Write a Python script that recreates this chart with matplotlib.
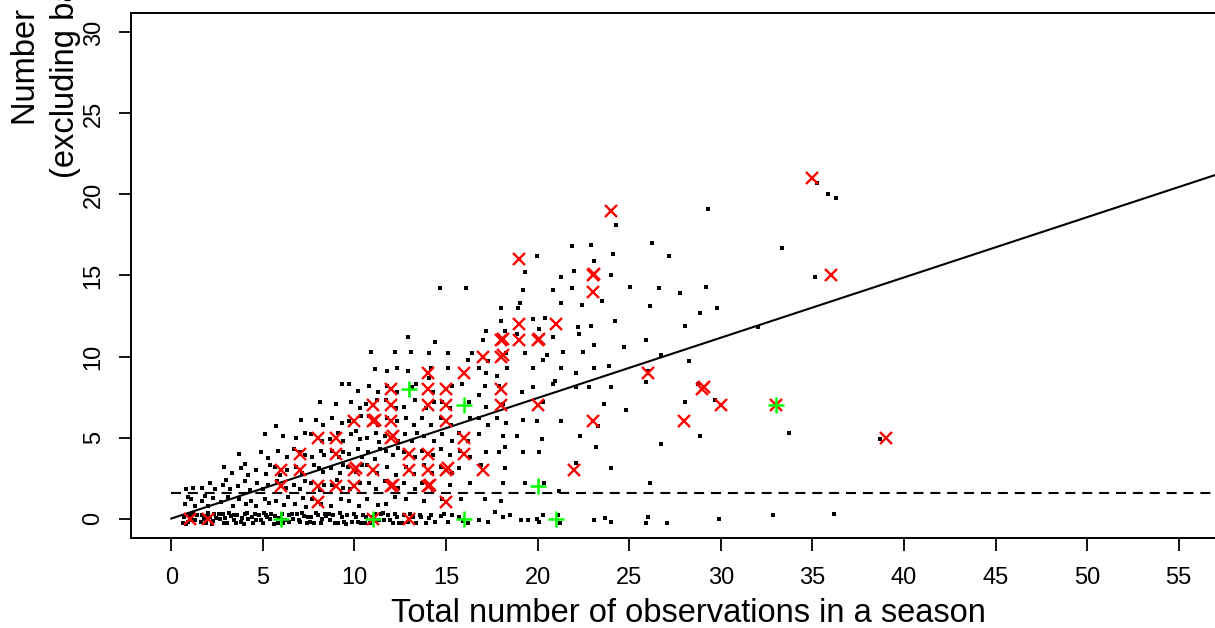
import matplotlib
matplotlib.use("Agg")
import matplotlib.pyplot as plt

plt.rcParams['font.family'] = ['Liberation Sans', 'DejaVu Sans']

# ---------------- data ----------------
# black (jittered) observations
black_x = [
    0.7, 0.9, 1.1, 1.3, 0.8, 1.2, 1.0, 0.75, 1.05, 1.3, 0.9, 0.8, 1.2,
    1.7, 1.9, 2.1, 2.3, 2.0, 1.8, 2.35, 1.65, 2.0, 2.25, 1.85, 1.7, 2.1, 2.4,
    2.65, 2.85, 3.05, 3.25, 3.4, 2.95, 2.7, 3.1, 3.35, 2.8, 3.2, 3.0, 2.9, 3.3,
    3.6, 3.8, 4.0, 4.2, 4.4, 3.95, 3.7, 4.1, 4.35, 3.65, 4.05, 4.3, 3.8, 4.2, 4.0, 3.7,
    4.6, 4.8, 5.0, 5.2, 5.4, 5.05, 4.65, 5.1, 5.35, 4.7, 5.0, 5.3, 4.6, 5.15, 5.4, 4.9, 5.3, 5.1,
    5.65, 5.8, 6.05, 6.2, 6.4, 5.7, 6.15, 6.35, 5.75, 6.25, 5.65, 6.3, 5.95, 5.8, 6.3, 6.1, 5.7,
    6.65, 6.85, 7.05, 7.25, 7.4, 6.75, 7.2, 7.35, 6.7, 7.0, 7.3, 6.8, 7.15, 6.7, 7.3, 7.0, 6.8, 7.3, 7.1,
    7.6, 7.8, 8.0, 8.25, 8.4, 7.7, 8.2, 7.65, 8.1, 8.35, 7.8, 8.3, 8.05, 7.7, 8.2, 8.35, 7.65, 8.25, 7.9, 8.3, 8.1,
    8.65, 8.85, 9.1, 9.3, 8.7, 9.25, 8.8, 9.35, 9.05, 8.7, 9.2, 9.35, 8.75, 9.15, 9.4, 8.65, 9.1, 9.35, 8.8, 9.3, 9.0, 9.3,
    9.6, 9.85, 10.1, 10.35, 9.7, 10.25, 9.75, 10.3, 9.65, 10.1, 10.4, 9.7, 10.2, 10.4, 9.8, 10.3, 10.1, 9.7, 10.35, 9.8, 10.3, 9.7, 10.2, 10.92,
    10.65, 10.85, 11.1, 11.35, 10.7, 11.3, 10.8, 11.2, 10.7, 11.25, 10.75, 11.1, 11.4, 10.7, 11.2, 11.35, 10.8, 11.3, 10.65, 11.25, 10.8, 11.3, 11.1,
    11.6, 11.85, 12.1, 12.3, 11.7, 12.2, 11.65, 12.35, 11.75, 12.25, 11.7, 12.1, 12.4, 11.65, 12.35, 11.8, 12.3, 11.7, 12.25, 11.75, 12.3, 12.34, 11.8, 12.2, 12.95,
    12.7, 12.9, 13.2, 12.8, 12.7, 13.3, 12.8, 13.25, 12.7, 13.3, 12.75, 13.15, 13.4, 12.8, 13.25, 12.7, 13.3, 13.15, 13.35, 12.9, 13.1,
    13.65, 13.9, 14.2, 13.8, 13.7, 14.3, 13.8, 14.25, 13.7, 14.3, 13.8, 14.35, 13.7, 14.2, 13.9, 14.35, 14.07, 14.3, 14.17, 14.07, 14.37, 14.67,
    14.7, 15.1, 14.8, 15.2, 14.75, 15.3, 14.7, 15.2, 14.8, 15.35, 14.7, 15.25, 14.8, 15.2, 15.08, 15.3, 15.1, 16.1,
    15.7, 16.2, 15.8, 16.3, 15.7, 15.75, 16.3, 15.7, 16.2, 16.3, 15.89, 16.25, 16.2, 16.4, 16.8, 17.0,
    16.8, 17.3, 17.1, 16.9, 17.2, 16.8, 16.8, 17.3, 17.2, 17.1, 16.8, 17.2, 17.3, 17.2, 18.02,
    17.7, 18.1, 18.0, 18.1, 18.2, 17.9, 18.2, 18.1, 17.8, 18.3, 18.1, 17.9, 18.33, 17.8, 18.3, 18.2, 18.02,
    18.5, 19.1, 19.5, 19.3, 19.2, 18.9, 19.2, 19.13, 19.74, 19.74, 19.3, 18.9, 20.05, 19.74, 18.93, 19.03, 19.2, 19.3, 19.95,
    19.95, 20.1, 20.3, 20.35, 20.05, 20.25, 19.95, 20.3, 20.86, 20.3, 20.5, 20.86, 20.4, 21.27, 20.86,
    21.1, 21.2, 21.16, 21.27, 20.96, 21.27, 21.4, 21.87, 21.27, 21.98, 21.87,
    22.3, 22.08, 22.28, 22.18, 22.08, 22.08, 22.5, 22.4, 22.89, 22.89, 22.79, 23.09, 23.2, 23.09, 23.09, 23.09,
    23.3, 23.7, 24.0, 24.0, 23.9, 24.0, 24.2, 24.1, 24.0, 24.3, 23.5, 23.6, 24.71, 24.82, 25.02,
    25.93, 26.13, 26.03, 25.93, 26.23, 26.03, 25.93, 26.13, 26.74, 26.64, 27.15, 26.74, 27.04,
    27.75, 28.06, 28.26, 28.06, 28.77, 28.87, 29.17, 28.87, 29.28, 29.78, 29.68, 29.88,
    32.02, 33.33, 33.74, 32.83, 35.26, 35.87, 36.27, 35.16, 36.17, 38.7,
    # extra points of the dense zero band
    0.65, 0.95, 1.15, 1.4, 1.6, 1.95, 2.2, 2.45, 2.6, 2.9, 3.15, 3.45,
    3.55, 3.85, 4.15, 4.45, 4.55, 4.9, 5.15, 5.45, 5.6, 5.9, 6.1, 6.45,
    6.6, 6.95, 7.15, 7.45, 7.55, 7.9, 8.15, 8.45, 8.6, 8.95, 9.2, 9.45,
    9.55, 9.95, 10.2, 10.45, 10.6, 10.95, 11.2, 11.45, 11.55, 11.95, 12.2, 12.45,
    12.6, 13.05, 13.35, 13.6, 14.05, 14.4, 14.9, 15.3, 15.95,
]
black_y = [
    0.1, -0.2, 0.2, -0.1, -0.35, 0.35, 0.0, 0.9, 1.2, 0.8, 1.35, 1.8, 1.9,
    0.2, -0.3, 0.1, -0.15, 0.35, -0.05, 0.3, 1.1, 0.8, 1.25, 1.4, 1.9, 2.2, 1.8,
    0.0, 0.3, -0.25, 0.15, -0.1, 0.05, 1.0, 1.3, 0.8, 2.1, 1.8, 2.35, 3.2, 2.8,
    0.2, -0.2, 0.3, -0.05, 0.1, -0.35, 1.2, 0.9, 1.1, 2.0, 2.3, 1.75, 3.1, 2.7, 3.35, 4.0,
    -0.1, 0.25, -0.3, 0.1, -0.05, 0.35, 0.8, 1.2, 0.95, 2.2, 1.8, 2.1, 3.0, 2.75, 3.3, 4.1, 3.75, 5.2,
    0.15, -0.25, 0.3, -0.1, 0.2, 1.1, 0.85, 1.3, 2.3, 1.9, 3.2, 3.0, 2.7, 4.2, 3.8, 5.1, 5.7,
    0.0, 0.3, -0.2, 0.15, -0.3, 0.9, 1.25, 0.7, 2.1, 1.8, 2.3, 3.2, 2.8, 4.3, 3.9, 4.1, 5.0, 5.3, 6.1,
    0.1, -0.25, 0.25, -0.05, 0.3, 1.2, 0.9, 2.2, 1.75, 2.1, 3.3, 2.9, 3.1, 3.8, 4.2, 3.9, 5.2, 4.8, 6.1, 5.8, 7.2,
    -0.1, 0.2, -0.3, 0.1, 0.8, 1.2, 2.1, 1.9, 2.35, 3.1, 2.8, 3.3, 4.2, 3.8, 4.1, 4.9, 5.3, 4.8, 6.2, 5.9, 7.1, 8.3,
    0.2, -0.2, 0.1, -0.3, 1.1, 0.8, 1.8, 2.2, 3.2, 2.9, 3.3, 4.0, 4.3, 3.8, 5.2, 4.9, 5.4, 6.0, 6.3, 7.2, 6.8, 8.3, 7.9, 10.3,
    0.1, -0.25, 0.3, -0.1, 1.2, 0.85, 2.2, 1.8, 3.3, 2.8, 4.1, 3.7, 4.3, 5.0, 5.3, 4.75, 6.3, 5.8, 7.1, 7.3, 8.2, 7.8, 9.2,
    -0.1, 0.25, -0.3, 0.1, 0.9, 1.3, 2.3, 1.9, 3.2, 2.7, 4.2, 3.9, 4.35, 5.1, 4.8, 6.2, 6.0, 7.3, 6.8, 8.2, 7.8, 9.3, 9.1, 10.3, 11.2,
    0.2, -0.2, 0.1, 1.2, 2.2, 1.8, 3.2, 2.75, 4.1, 3.8, 5.2, 4.8, 5.3, 6.2, 5.8, 6.9, 7.3, 8.1, 8.3, 9.1, 10.3,
    0.1, -0.25, 0.25, 1.1, 2.2, 1.75, 3.3, 2.8, 4.2, 3.9, 5.1, 4.8, 6.2, 5.8, 6.8, 7.2, 8.7, 7.8, 9.3, 10.2, 10.9, 14.2,
    0.15, -0.2, 1.2, 2.1, 3.2, 2.8, 4.3, 3.9, 5.2, 4.8, 6.2, 5.8, 7.2, 6.8, 9.3, 8.2, 10.2, 14.2,
    0.1, -0.3, 1.2, 2.2, 3.1, 4.2, 3.8, 5.3, 4.8, 6.2, 8.3, 7.2, 9.8, 10.2, 7.6, 11.0,
    -0.1, -0.2, 1.2, 3.3, 4.1, 5.2, 6.2, 5.8, 6.9, 8.2, 9.3, 9.0, 9.7, 11.6, 12.2,
    0.4, 0.1, 1.1, 2.2, 3.1, 4.1, 4.4, 5.1, 6.2, 5.9, 7.1, 8.2, 9.3, 8.8, 10.2, 11.6, 13.0,
    0.2, -0.1, -0.1, 2.2, 4.1, 5.1, 6.1, 7.8, 8.1, 9.3, 10.2, 11.4, 11.7, 12.3, 13.0, 13.3, 14.1, 15.2, 16.2,
    0.0, -0.2, 0.2, 2.2, 4.1, 4.9, 6.0, 7.2, 8.3, 9.8, 10.1, 11.2, 12.4, 13.3, 14.1,
    0.2, -0.3, 1.7, 6.0, 8.5, 9.3, 10.3, 14.2, 14.9, 15.3, 16.8,
    5.1, 3.4, 11.4, 11.8, 9.0, 8.1, 10.3, 13.2, 16.9, 11.9, 8.1, -0.1, 4.4, 15.9, 10.7, 9.3,
    5.7, 0.05, -0.2, 3.1, 9.4, 8.1, 12.2, 16.3, 15.0, 18.1, 13.4, 7.1, 10.6, 6.7, 14.3,
    11.0, 13.1, 9.1, 8.4, 17.0, 0.1, -0.3, 2.2, 10.1, 14.2, 16.2, 4.6, -0.25,
    13.9, 11.9, 9.7, 7.2, 8.3, 12.7, 14.3, 5.1, 19.1, 13.0, 7.3, 0.0,
    11.8, 16.7, 5.3, 0.2, 20.7, 20.0, 19.8, 14.9, 0.3, 4.9,
    # extra points of the dense zero band
    -0.3, 0.3, -0.1, 0.25, -0.2, 0.15, -0.35, 0.05, 0.3, -0.3, 0.35, 0.2,
    -0.3, 0.05, 0.35, -0.25, 0.3, -0.1, 0.2, 0.3, -0.35, 0.05, -0.3, -0.2,
    0.3, -0.1, 0.35, 0.1, -0.2, 0.35, -0.3, 0.15, 0.3, -0.3, 0.35, -0.2,
    -0.35, 0.3, -0.2, 0.25, -0.3, 0.1, -0.1, 0.3, 0.35, -0.1, 0.3, -0.25,
    -0.3, 0.3, -0.25, 0.2, 0.05, -0.2, 0.3, 0.2, -0.15,
]

# red crosses
red_x = [1, 2, 6, 6, 7, 7, 8, 8, 8, 9, 9, 9,
         10, 10, 10.1, 10, 11, 11, 11.1, 11, 11,
         12, 12, 12, 12, 12.1, 12, 12.1, 13, 13, 13,
         14, 14, 14, 14, 14, 14, 14.1, 15, 15, 15, 15, 15.1, 15,
         16, 16, 16, 17, 17, 18, 18.1, 18, 18.1, 18, 18,
         19, 19, 19, 20, 20.1, 20, 21, 22, 23, 23.1, 23, 23,
         24, 26, 28, 29, 29.1, 30, 33, 35, 36, 39]
red_y = [0, 0, 3, 2, 4, 3, 5, 2, 1, 5, 4, 2,
         6, 3, 3.1, 2, 7, 6, 6.1, 3, 0,
         8, 7, 6, 5, 5.1, 2, 2.1, 4, 3, 0,
         9, 8, 7, 4, 3, 2, 2.1, 8, 7, 6, 3, 3.1, 1,
         9, 5, 4, 10, 3, 11, 11.1, 10, 10.1, 8, 7,
         16, 12, 11, 11, 11.1, 7, 12, 3, 15, 15.1, 14, 6,
         19, 9, 6, 8, 8.1, 7, 7, 21, 15, 5]

# green pluses
green_x = [6, 11, 13, 16, 16, 20, 21, 33]
green_y = [0, 0, 8, 7, 0, 2, 0, 7]

# fitted line and threshold
fit_slope = 0.372
fit_intercept = 0.0
line_x = [0, 60]
threshold = 1.6

x_ticks = [0, 5, 10, 15, 20, 25, 30, 35, 40, 45, 50, 55]
y_ticks = [0, 5, 10, 15, 20, 25, 30]

# ---------------- figure ----------------
W, H = 1215, 628
fig = plt.figure(figsize=(W / 100, H / 100), dpi=100)
ax = fig.add_axes([131 / W, 1 - 538 / H, 1088 / W, 525 / H])

ax.plot(black_x, black_y, linestyle='none', marker='s', markersize=3.3,
        color='black', markeredgewidth=0, antialiased=False, zorder=3)
ax.plot(line_x, [fit_intercept + fit_slope * v for v in line_x], color='black',
        lw=1.5, zorder=2)
ax.plot(line_x, [threshold, threshold], color='black', lw=1.5,
        dashes=(4.8, 3.3), zorder=2)
ax.plot(red_x, red_y, linestyle='none', marker='x', markersize=9,
        markeredgewidth=1.7, color='#ff0000', zorder=4)
ax.plot(green_x, green_y, linestyle='none', marker='+', markersize=12,
        markeredgewidth=1.8, color='#00ff00', zorder=5)

ax.set_xlim(-2.2, 57.2)
ax.set_ylim(-1.2, 31.2)
ax.set_xticks(x_ticks)
ax.set_yticks(y_ticks)
ax.tick_params(axis='both', direction='out', length=9, width=1.3,
               labelsize=17, pad=12)
ax.tick_params(axis='y', pad=10)
for lab in ax.get_yticklabels():
    lab.set_rotation(90)
    lab.set_va('center')
for s in ax.spines.values():
    s.set_linewidth(1.4)

fig.text(688 / W, 1 - 622 / H, 'Total number of observations in a season',
         ha='center', va='baseline', fontsize=23.5)
fig.text(27 / W, 1 - 125 / H, 'Number of resightings', rotation=90,
         ha='center', va='bottom', fontsize=23.5)
fig.text(66 / W, 1 - 178 / H, '(excluding banding season)', rotation=90,
         ha='center', va='bottom', fontsize=23.5)

fig.savefig('out.png', dpi=100)
